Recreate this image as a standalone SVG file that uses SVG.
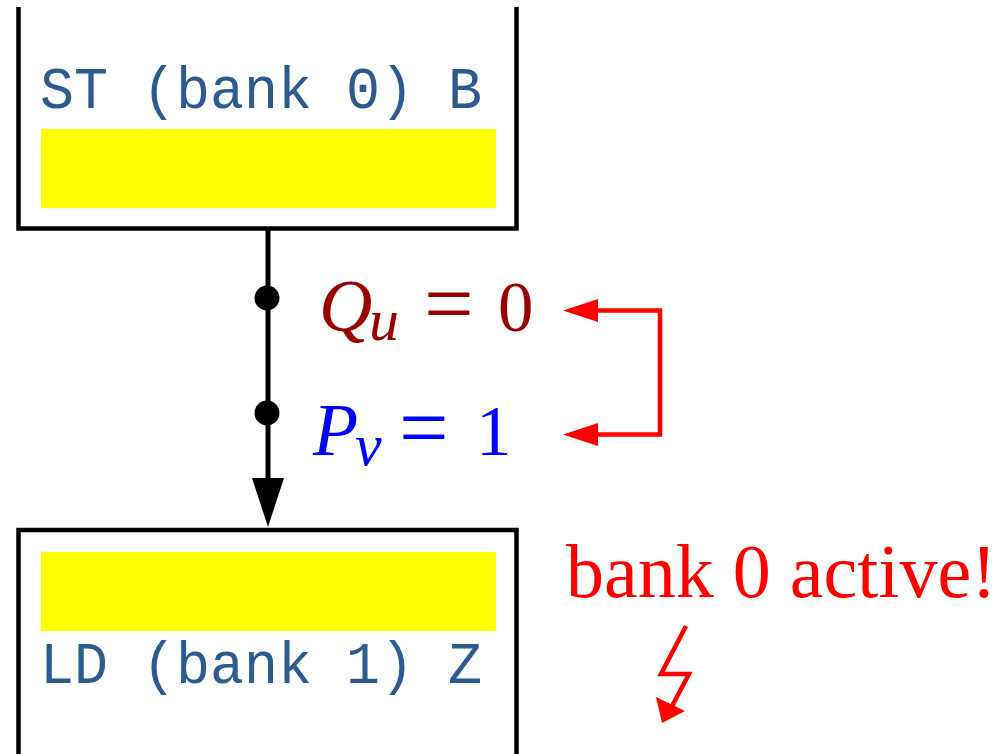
<svg xmlns="http://www.w3.org/2000/svg" width="1005" height="754" viewBox="0 0 1005 754">
<defs>
<style>
.box{fill:none;stroke:#000;stroke-width:4.5}
.hl{fill:#ffff00}
.code{font-family:"Liberation Mono","Courier New",monospace;font-size:60px;fill:#2b5b8f}
.math{font-family:"Liberation Serif","Times New Roman",serif}
.it{font-style:italic}
.red{stroke:#ff0000;stroke-width:4.5;fill:none}
</style>
</defs>
<rect width="1005" height="754" fill="#fff"/>
<g id="store">
<path class="box" d="M18.5,7 V228.5 H516.5 V7"/>
<rect class="hl" x="41" y="129" width="455" height="79"/>
<text class="code" x="40" y="108" textLength="442" lengthAdjust="spacingAndGlyphs">ST (bank 0) B</text>
</g>
<g id="load">
<path class="box" d="M18.5,754 V530 H516.5 V754"/>
<rect class="hl" x="41" y="552" width="455" height="79"/>
<text class="code" x="40" y="683" textLength="442" lengthAdjust="spacingAndGlyphs">LD (bank 1) Z</text>
</g>
<g id="connectors">
<line x1="268" y1="228" x2="268" y2="480" stroke="#000" stroke-width="5"/>
<path d="M252,478 L284,478 L268,527 Z" fill="#000"/>
<circle cx="267" cy="298" r="12.5" fill="#000"/>
<circle cx="267" cy="413" r="12.5" fill="#000"/>
<path class="red" d="M598,310.5 H660 V434.5 H598"/>
<path d="M563,310.5 L598,299 L598,322 Z" fill="#ff0000"/>
<path d="M563,434.5 L598,423 L598,446 Z" fill="#ff0000"/>
<path d="M686,626 L661,674 H689 L670,710" stroke="#ff0000" stroke-width="4.5" fill="none"/>
<path d="M662,723 L656,697 L685,711 Z" fill="#ff0000"/>
</g>
<g id="cond-q">
<text class="math" fill="#990000" font-size="74"><tspan class="it" x="319" y="331">Q</tspan><tspan class="it" x="369" y="340" font-size="60">u</tspan><tspan x="424" y="333" font-size="88">=</tspan><tspan x="498" y="331" font-size="71">0</tspan></text>
</g>
<g id="cond-p">
<text class="math" fill="#0000ff" font-size="74"><tspan class="it" x="313" y="455">P</tspan><tspan class="it" x="355" y="465" font-size="60">v</tspan><tspan x="399" y="457" font-size="88">=</tspan><tspan x="476" y="455" font-size="71">1</tspan></text>
</g>
<g id="note">
<text class="math" fill="#ff0000" font-size="76" x="566" y="597">bank 0 active!</text>
</g>
</svg>
